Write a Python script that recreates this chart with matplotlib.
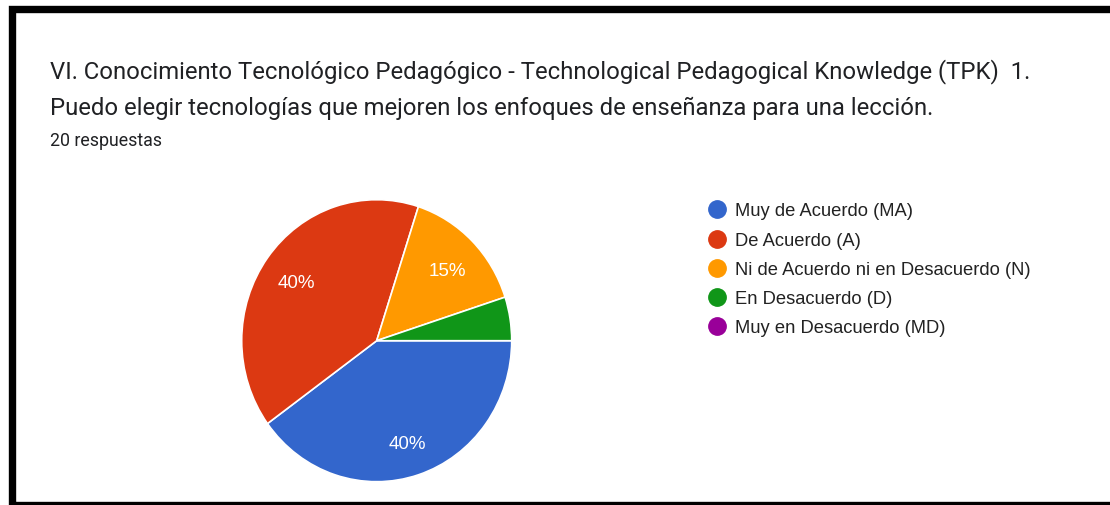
import matplotlib
matplotlib.use("Agg")
import matplotlib.pyplot as plt
from matplotlib.patches import Rectangle
from matplotlib.lines import Line2D

# survey answers (20 respuestas)
labels = ["Muy de Acuerdo (MA)", "De Acuerdo (A)",
          "Ni de Acuerdo ni en Desacuerdo (N)", "En Desacuerdo (D)",
          "Muy en Desacuerdo (MD)"]
counts = [8, 8, 3, 1, 0]
colors = ["#3366cc", "#dc3912", "#ff9900", "#109618", "#990099"]

title_1 = "VI. Conocimiento Tecnológico Pedagógico - Technological Pedagogical Knowledge (TPK)  1."
title_2 = "Puedo elegir tecnologías que mejoren los enfoques de enseñanza para una lección."
subtitle = "20 respuestas"

W, H = 1110, 506
fig = plt.figure(figsize=(W / 100, H / 100), dpi=100)
fig.patch.set_facecolor("white")

def fx(px):
    return px / W

def fy(py):
    return 1 - py / H

# black frame of the screenshot
fig.patches.append(Rectangle((fx(11.5), fy(506)), fx(1120) - fx(11.5), fy(10) - fy(506),
                             transform=fig.transFigure, fill=False, edgecolor="black",
                             linewidth=5.3, zorder=10))

fig.text(fx(50), fy(78), title_1, fontsize=17.2, family="Roboto", color="#202124")
fig.text(fx(50), fy(115), title_2, fontsize=17.2, family="Roboto", color="#202124")
fig.text(fx(50), fy(146), subtitle, fontsize=12.8, family="Roboto", color="#202124")

# pie (slightly taller than wide, like the screenshot)
cx, cy, rx, ry = 376.7, 341.7, 135, 141
ax = fig.add_axes([fx(cx - rx), fy(cy + ry), 2 * rx / W, 2 * ry / H])
vals = [c for c in counts if c > 0]
cols = [col for c, col in zip(counts, colors) if c > 0]

def pct(p):
    return "%d%%" % round(p) if p >= 10 else ""

wedges, texts, autotexts = ax.pie(vals, colors=cols, startangle=0, counterclock=False,
                                  autopct=pct, pctdistance=0.74, radius=1,
                                  wedgeprops=dict(edgecolor="white", linewidth=1.2),
                                  textprops=dict(color="white", fontsize=13.5,
                                                 family="Liberation Sans"))
# nudge labels a little down, as in the screenshot
for t in autotexts:
    x, y = t.get_position()
    t.set_position((x, y - 0.025))
ax.set_xlim(-1, 1)
ax.set_ylim(-1, 1)
ax.set_aspect("auto")
ax.axis("off")

# legend
rows_y = [210, 239.5, 269, 298, 327]
for lab, col, yy in zip(labels, colors, rows_y):
    fig.add_artist(Line2D([fx(717)], [fy(yy)], marker="o", markersize=12.5,
                          color=col, transform=fig.transFigure))
    fig.text(fx(735), fy(yy + 1.5), lab, fontsize=13.2, family="Liberation Sans",
             color="#222222", va="center")

fig.savefig("out.png", dpi=100)
